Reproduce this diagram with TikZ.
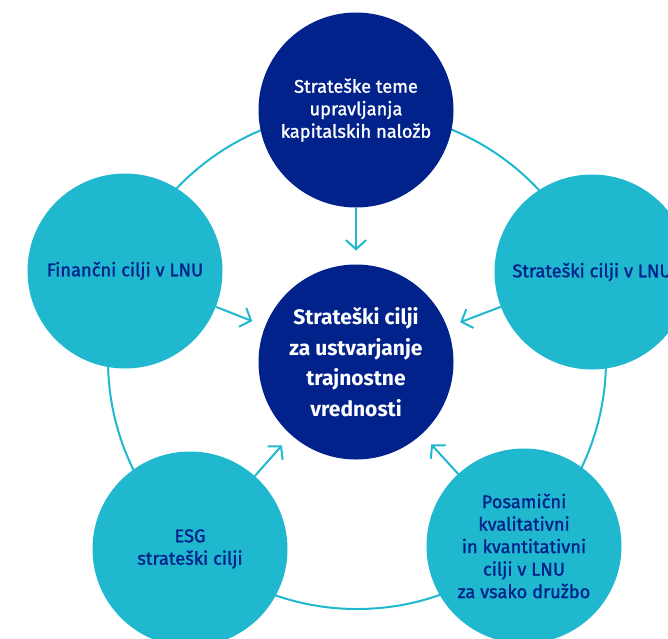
\documentclass[tikz,border=0pt]{standalone}
\usepackage{fontspec}
\setmainfont{Fira Sans}
\newfontfamily\firamid[FakeBold=1.3]{Fira Sans}
\usepackage{tikz}
\usetikzlibrary{arrows.meta,calc}
\definecolor{lnunavy}{HTML}{00228A}
\definecolor{lnucyan}{HTML}{1FB8CE}
\tikzset{
  goalcore/.style={circle,fill=lnunavy,text=white,minimum size=195pt,inner sep=0pt,outer sep=0pt,align=center,font=\bfseries\fontsize{21}{30.7}\selectfont},
  goaltheme/.style={circle,fill=lnunavy,text=white,minimum size=195pt,inner sep=0pt,outer sep=0pt,align=center,font=\firamid\fontsize{18.3}{22.5}\selectfont},
  goalsub/.style={circle,fill=lnucyan,text=lnunavy,minimum size=195pt,inner sep=0pt,outer sep=0pt,align=center,font=\firamid\fontsize{18.3}{22.5}\selectfont},
  goalring/.style={draw=lnucyan,line width=2pt},
  goalflow/.style={-{Straight Barb[length=9pt,width=20pt,line width=2pt]},draw=lnucyan,line width=2pt,shorten >=14pt}
}
\begin{document}
\begin{tikzpicture}[x=1pt,y=-1pt]
\useasboundingbox (0,0) rectangle (668,638);
\draw[goalring] (357,360) circle (249);
\node[goalcore] (core) at (356,362) {Strateški cilji\\za ustvarjanje\\trajnostne\\vrednosti};
\node[goaltheme] (teme) at (356,110) {Strateške teme\\upravljanja\\kapitalskih naložb};
\node[goalsub] (fin) at (125,271) {Finančni cilji v LNU};
\node[goalsub] (strat) at (592,272) {Strateški cilji v LNU};
\node[goalsub] (esg) at (190,549) {ESG\\strateški cilji};
\node[goalsub] (posam) at (524,546) {Posamični\\kvalitativni\\in kvantitativni\\cilji v LNU\\za vsako družbo};
\foreach \n in {teme,fin,strat,esg,posam}{\draw[goalflow] (\n) -- (core);}
\end{tikzpicture}
\end{document}
